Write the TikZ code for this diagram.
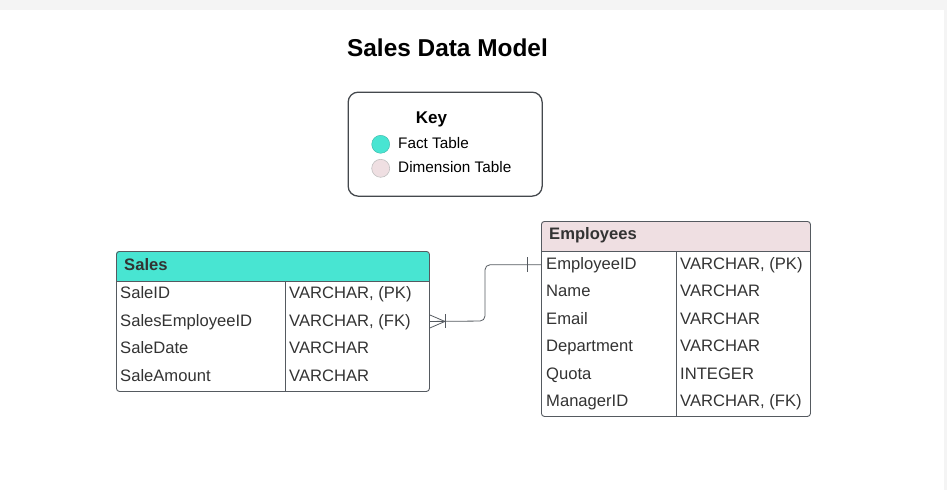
\documentclass[tikz,border=0pt]{standalone}
\usepackage{fontspec}
\setmainfont{Liberation Sans}
\usetikzlibrary{calc}
\definecolor{txt}{HTML}{333333}
\definecolor{edge}{HTML}{555A60}
\definecolor{fact}{HTML}{48E5D2}
\definecolor{dim}{HTML}{EFDFE2}
\definecolor{band}{HTML}{F4F4F4}
\tikzset{
  tbl/.style={draw=edge, line width=0.9pt, rounded corners=3pt, inner sep=0pt, anchor=north west},
  cell/.style={anchor=base west, inner sep=0pt, text=txt, font=\fontsize{16.6}{20}\selectfont},
  hdr/.style={anchor=base west, inner sep=0pt, text=txt, font=\fontsize{16.6}{20}\selectfont\bfseries},
  keytxt/.style={anchor=base west, inner sep=0pt, text=black, font=\fontsize{15.3}{18}\selectfont},
  dot/.style={circle, minimum size=18pt, inner sep=0pt},
  conn/.style={draw=edge, line width=0.9pt},
}
\begin{document}
\begin{tikzpicture}[x=1pt,y=-1pt]
\useasboundingbox (0,0) rectangle (947,490);
\fill[band] (0,0) rectangle (947,9.5);
\fill[band] (943.5,9.5) rectangle (947,490);

% title
\node[anchor=base, inner sep=0pt, font=\fontsize{24.4}{28}\selectfont\bfseries] (title) at (447.5,56) {Sales Data Model};

% key
\node[draw=edge!80!black, line width=1.3pt, rounded corners=10pt, minimum width=194pt, minimum height=104pt, anchor=north west, inner sep=0pt] (key) at (347.5,91.5) {};
\node[anchor=base, inner sep=0pt, font=\fontsize{17}{20}\selectfont\bfseries] (keyt) at (431.5,123) {Key};
\node[dot, fill=fact, draw=fact!80!black, line width=0.4pt] (dfact) at (380.7,144.3) {};
\node[dot, fill=dim, draw=black!25, line width=0.6pt] (ddim) at (380.7,168.3) {};
\node[keytxt] (lfact) at (398,148.3) {Fact Table};
\node[keytxt] (ldim) at (398,172.3) {Dimension Table};

% Sales table
\begin{scope}
\clip[rounded corners=3pt] (116,251) rectangle (429,391);
\fill[fact] (116,251) rectangle (429,281);
\end{scope}
\node[tbl, minimum width=313pt, minimum height=140pt] (sales) at (116,251) {};
\draw[conn] (116,281) -- (429,281);
\draw[conn] (285,281) -- (285,391);
\node[hdr] (sh) at (124,270) {Sales};
\node[cell] (s1a) at (120,298.8) {SaleID};
\node[cell] (s1b) at (289,298.8) {VARCHAR, (PK)};
\node[cell] (s2a) at (120,326.3) {SalesEmployeeID};
\node[cell] (s2b) at (289,326.3) {VARCHAR, (FK)};
\node[cell] (s3a) at (120,353.8) {SaleDate};
\node[cell] (s3b) at (289,353.8) {VARCHAR};
\node[cell] (s4a) at (120,381.3) {SaleAmount};
\node[cell] (s4b) at (289,381.3) {VARCHAR};

% Employees table
\begin{scope}
\clip[rounded corners=3pt] (541,221) rectangle (810,416);
\fill[dim] (541,221) rectangle (810,251);
\end{scope}
\node[tbl, minimum width=269pt, minimum height=195pt] (emp) at (541,221) {};
\draw[conn] (541,251) -- (810,251);
\draw[conn] (676,251) -- (676,416);
\node[hdr] (eh) at (549,239.5) {Employees};
\node[cell] (e1a) at (546,269.3) {EmployeeID};
\node[cell] (e1b) at (680,269.3) {VARCHAR, (PK)};
\node[cell] (e2a) at (546,296.8) {Name};
\node[cell] (e2b) at (680,296.8) {VARCHAR};
\node[cell] (e3a) at (546,324.3) {Email};
\node[cell] (e3b) at (680,324.3) {VARCHAR};
\node[cell] (e4a) at (546,351.8) {Department};
\node[cell] (e4b) at (680,351.8) {VARCHAR};
\node[cell] (e5a) at (546,379.3) {Quota};
\node[cell] (e5b) at (680,379.3) {INTEGER};
\node[cell] (e6a) at (546,406.8) {ManagerID};
\node[cell] (e6b) at (680,406.8) {VARCHAR, (FK)};

% connector
\coordinate (eid) at ($(emp.north west)+(0,43.75)$);
\draw[conn, line width=0.8pt, rounded corners=5pt] (sales.east) -- (485,321) -- (485,264.75) -- (eid);
% crow's foot (many) at Sales
\draw[conn, line width=0.8pt] ($(sales.east)+(0,-6.5)$) -- ($(sales.east)+(15,0)$) -- ($(sales.east)+(0,6.5)$);
\draw[conn, line width=0.8pt] ($(sales.east)+(15,-7)$) -- ($(sales.east)+(15,7)$);
% one bar at Employees
\draw[conn, line width=0.8pt] ($(eid)+(-14,-7.5)$) -- ($(eid)+(-14,7.5)$);
\end{tikzpicture}
\end{document}
